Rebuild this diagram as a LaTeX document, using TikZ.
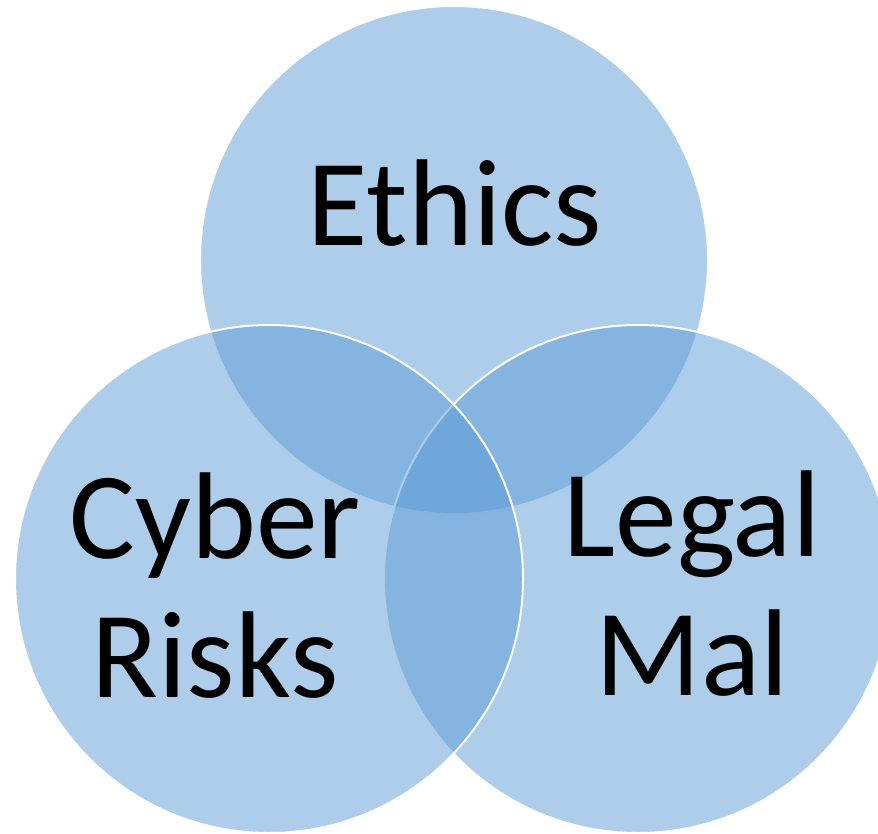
\documentclass[tikz,border=0pt]{standalone}
\usepackage{fontspec}
\setmainfont{Carlito}
\begin{document}
\begin{tikzpicture}[x=1bp,y=-1bp,
  setcircle/.style={circle, minimum size=508bp, inner sep=0pt, outer sep=0pt,
    fill={rgb,255:red,91;green,155;blue,213}, fill opacity=0.5,
    draw=white, line width=2bp},
  setlabel/.style={font=\fontsize{124}{139}\selectfont, align=center,
    inner sep=0pt, anchor=base, text=black}]
  \useasboundingbox (0,0) rectangle (878,834);
  % the three overlapping sets, top first, then right, then left
  \node[setcircle] (ethics) at (454,260) {};
  \node[setcircle] (legal)  at (638,579) {};
  \node[setcircle] (cyber)  at (269,579) {};
  % labels (base anchor sits on the last line)
  \node[setlabel] (ethicslbl) at (455,245) {Ethics};
  \node[setlabel] (cyberlbl)  at (215,697) {Cyber\\Risks};
  \node[setlabel] (legallbl)  at (692,695) {Legal\\Mal};
\end{tikzpicture}
\end{document}
